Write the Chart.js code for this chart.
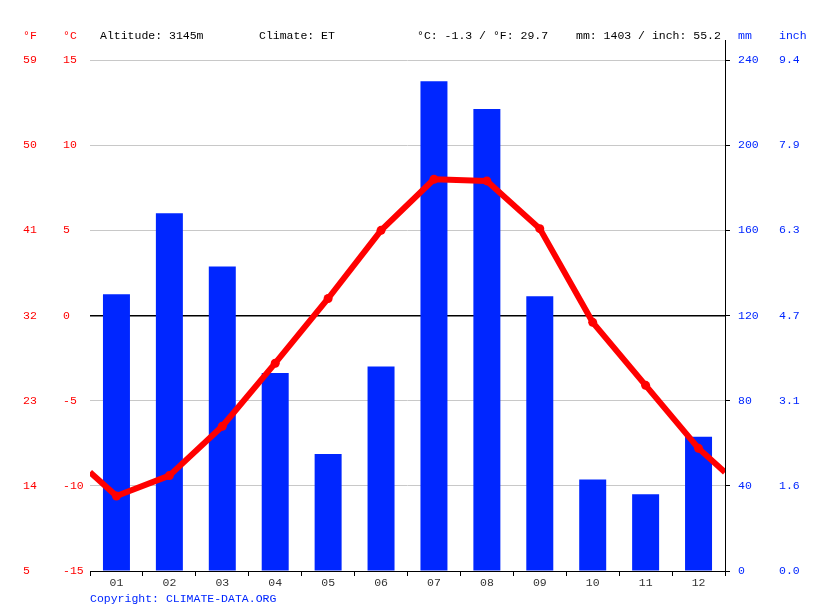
<!DOCTYPE html>
<html><head><meta charset="utf-8">
<script src="https://cdn.jsdelivr.net/npm/chart.js@4"></script>
<style>
html,body{margin:0;padding:0;background:#fff;}
#wrap{position:relative;width:815px;height:611px;overflow:hidden;}
#c{position:absolute;left:0;top:0;}
.t{position:absolute;font-family:"Liberation Mono",monospace;font-size:11.5px;line-height:14px;white-space:pre;color:#000;}
.r{color:#ff0000;}
.b{color:#0026ff;}
</style></head><body>
<div id="wrap">
<canvas id="c" width="815" height="611"></canvas>
<div class="t r" style="left:23px;top:29px">°F</div>
<div class="t r" style="left:63px;top:29px">°C</div>
<div class="t" style="left:100px;top:29px">Altitude: 3145m</div>
<div class="t" style="left:259px;top:29px">Climate: ET</div>
<div class="t" style="left:417px;top:29px">°C: -1.3 / °F: 29.7</div>
<div class="t" style="left:576px;top:29px">mm: 1403 / inch: 55.2</div>
<div class="t b" style="left:738px;top:29px">mm</div>
<div class="t b" style="left:779px;top:29px">inch</div>
<div class="t b" style="left:90px;top:592px">Copyright: CLIMATE-DATA.ORG</div>
</div>
<script>
const months = ['01','02','03','04','05','06','07','08','09','10','11','12'];
const precipMm = [130,168,143,93,55,96,230,217,129,43,36,63];
const tempC = [-10.6,-9.4,-6.5,-2.8,1.0,5.0,8.0,7.9,5.1,-0.4,-4.1,-7.8];
const tempCTicks = [-15,-10,-5,0,5,10,15];
const tempFTicks = [5,14,23,32,41,50,59];
const mmTicks = [0,40,80,120,160,200,240];
const inchTicks = ['0.0','1.6','3.1','4.7','6.3','7.9','9.4'];

const RED = '#ff0000';
const BLUE = '#0026ff';
const TEXTBLUE = '#0026ff';

Chart.defaults.font.family = '"Liberation Mono", monospace';
Chart.defaults.font.size = 11.5;

const edgeTemp = (tempC[11] + tempC[0]) / 2;
const lineData = [{x: 0.5, y: edgeTemp}]
  .concat(tempC.map((v, i) => ({x: i + 1, y: v})))
  .concat([{x: 12.5, y: edgeTemp}]);
const barData = precipMm.map((v, i) => ({x: i + 1, y: v}));

const axisTop = {
  id: 'axisTop',
  afterDraw(chart) {
    const a = chart.chartArea, ctx = chart.ctx;
    ctx.save();
    ctx.strokeStyle = '#000';
    ctx.lineWidth = 1;
    ctx.beginPath();
    ctx.moveTo(Math.round(a.right) + 0.5, a.top - 20);
    ctx.lineTo(Math.round(a.right) + 0.5, a.top);
    ctx.stroke();
    ctx.restore();
  }
};

new Chart(document.getElementById('c'), {
  type: 'bar',
  data: {
    datasets: [
      {
        type: 'line',
        data: lineData,
        yAxisID: 'yC',
        xAxisID: 'x',
        borderColor: RED,
        backgroundColor: RED,
        borderWidth: 6,
        borderJoinStyle: 'round',
        tension: 0,
        pointRadius: ctx => (ctx.dataIndex === 0 || ctx.dataIndex === lineData.length - 1) ? 0 : 4.5,
        pointBorderWidth: 0,
        pointBackgroundColor: RED,
        order: 0,
        clip: {left: 0, right: 0, top: 10, bottom: 10}
      },
      {
        type: 'bar',
        data: barData,
        yAxisID: 'yMM',
        xAxisID: 'x',
        backgroundColor: BLUE,
        borderWidth: 0,
        barPercentage: 0.51,
        categoryPercentage: 1,
        order: 1
      }
    ]
  },
  options: {
    responsive: false,
    animation: false,
    devicePixelRatio: 1,
    layout: {padding: {left: 23, top: 60, right: 0, bottom: 0}},
    plugins: {legend: {display: false}, tooltip: {enabled: false}},
    scales: {
      x: {
        type: 'linear',
        position: 'bottom',
        min: 0.5,
        max: 12.5,
        offset: false,
        afterBuildTicks: s => { s.ticks = months.map((m, i) => ({value: i + 1})); },
        ticks: {
          callback: (v, i) => months[i],
          color: '#333',
          padding: 0,
          maxRotation: 0,
          autoSkip: false
        },
        grid: {offset: true, drawOnChartArea: false, drawTicks: true, tickLength: 5, color: '#000'},
        border: {display: true, color: '#000', width: 1},
        afterFit: s => { s.height = 40; }
      },
      yF: {
        type: 'linear',
        position: 'left',
        weight: 10,
        min: tempFTicks[0],
        max: tempFTicks[tempFTicks.length - 1],
        afterBuildTicks: s => { s.ticks = tempFTicks.map(v => ({value: v})); },
        ticks: {color: RED, crossAlign: 'far', padding: 0, callback: v => String(v)},
        grid: {display: false, drawTicks: false},
        border: {display: false},
        afterFit: s => { s.width = 40; }
      },
      yC: {
        type: 'linear',
        position: 'left',
        weight: 0,
        min: tempCTicks[0],
        max: tempCTicks[tempCTicks.length - 1],
        afterBuildTicks: s => { s.ticks = tempCTicks.map(v => ({value: v})); },
        ticks: {color: RED, crossAlign: 'far', padding: 0, callback: v => String(v)},
        grid: {
          drawTicks: false,
          color: ctx => (ctx.tick && ctx.tick.value === 0) ? '#000' : '#c8c8c8',
          lineWidth: ctx => (ctx.tick && ctx.tick.value === 0) ? 1.5 : 1
        },
        border: {display: false},
        afterFit: s => { s.width = 27; }
      },
      yMM: {
        type: 'linear',
        position: 'right',
        weight: 0,
        min: mmTicks[0],
        max: mmTicks[mmTicks.length - 1],
        afterBuildTicks: s => { s.ticks = mmTicks.map(v => ({value: v})); },
        ticks: {color: TEXTBLUE, padding: 8, callback: v => String(v)},
        grid: {drawOnChartArea: false, drawTicks: true, tickLength: 5, color: '#000'},
        border: {display: true, color: '#000', width: 1},
        afterFit: s => { s.width = 54; }
      },
      yIn: {
        type: 'linear',
        position: 'right',
        weight: 10,
        min: 0,
        max: mmTicks[mmTicks.length - 1] / 25.4,
        afterBuildTicks: s => { s.ticks = mmTicks.map(v => ({value: v / 25.4})); },
        ticks: {color: TEXTBLUE, padding: 0, callback: (v, i) => inchTicks[i]},
        grid: {display: false, drawTicks: false},
        border: {display: false},
        afterFit: s => { s.width = 36; }
      }
    }
  },
  plugins: [axisTop]
});
</script>
</body></html>
